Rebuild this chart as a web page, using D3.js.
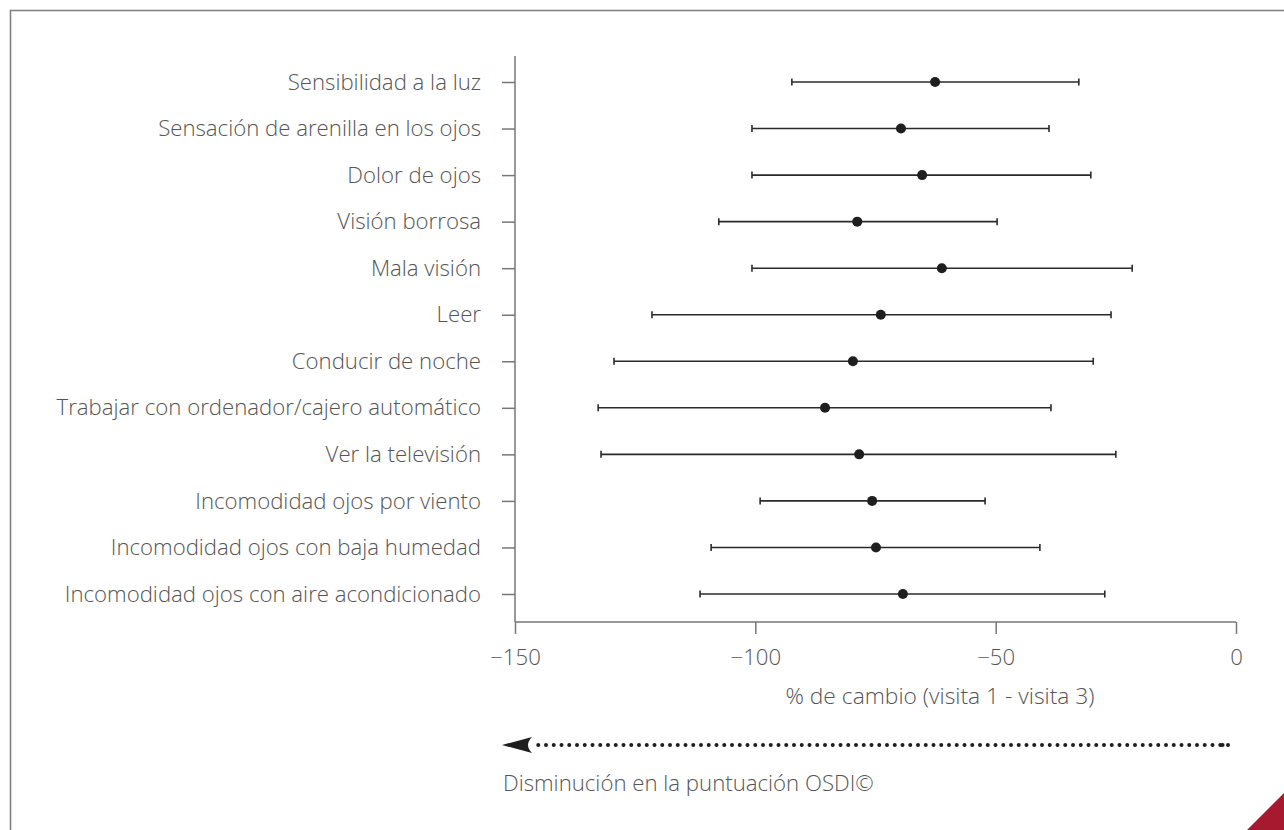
<!DOCTYPE html>
<html><head><meta charset="utf-8">
<script src="https://cdn.jsdelivr.net/npm/d3@7"></script>
<style>
html,body{margin:0;padding:0;background:#fff;}
svg{display:block;}
text{font-family:"Open Sans","Noto Sans",sans-serif;font-weight:300;fill:#555;}
</style></head><body>
<svg id="c" width="1284" height="830"></svg>
<script>
const categories = ["Sensibilidad a la luz","Sensación de arenilla en los ojos","Dolor de ojos","Visión borrosa","Mala visión","Leer","Conducir de noche","Trabajar con ordenador/cajero automático","Ver la televisión","Incomodidad ojos por viento","Incomodidad ojos con baja humedad","Incomodidad ojos con aire acondicionado"];
const meanValues = [-62.6,-69.7,-65.3,-78.8,-61.2,-73.9,-79.7,-85.5,-78.4,-75.7,-74.9,-69.3];
const lowerValues = [-92.4,-100.7,-100.7,-107.6,-100.7,-121.5,-129.4,-132.7,-132.1,-99.0,-109.2,-111.5];
const upperValues = [-32.7,-38.9,-30.2,-49.7,-21.6,-26.0,-29.7,-38.5,-25.0,-52.2,-40.8,-27.3];
const xTicks = [-150,-100,-50,0];
const xTitle = "% de cambio (visita 1 - visita 3)";
const arrowLabel = "Disminución en la puntuación OSDI©";

const FS = 22.2;
const svg = d3.select("#c");
// frame
svg.append("path").attr("d","M10.5,830 V10.5 H1284").attr("fill","none").attr("stroke","#808080").attr("stroke-width",1.6);
// red corner
svg.append("path").attr("d","M1247,830 L1284,793 L1284,830 Z").attr("fill","#a6192e");

const x = d3.scaleLinear().domain([-150,0]).range([515,1236]);
const y = d3.scalePoint().domain(categories).range([82,594]);
const axisY0 = 56, axisY1 = 622;

// y axis
svg.append("line").attr("x1",515).attr("x2",515).attr("y1",axisY0).attr("y2",axisY1).attr("stroke","#777").attr("stroke-width",1.5);
const gy = svg.append("g").attr("transform","translate(515,0)")
  .call(d3.axisLeft(y).tickSize(13).tickPadding(21));
gy.select(".domain").remove();
gy.selectAll(".tick line").attr("stroke","#777").attr("stroke-width",1.5);
gy.selectAll(".tick text").attr("font-size",FS).attr("fill","#555").style("font-family",'"Open Sans","Noto Sans",sans-serif').style("font-weight",300);

// x axis
const gx = svg.append("g").attr("transform",`translate(0,${axisY1})`)
  .call(d3.axisBottom(x).tickValues(xTicks).tickSize(12).tickPadding(15).tickFormat(d=>d<0?"\u2212"+Math.abs(d):d));
gx.select(".domain").attr("d",`M515,0H1236`).attr("stroke","#777").attr("stroke-width",1.5);
gx.selectAll(".tick line").attr("stroke","#777").attr("stroke-width",1.5);
gx.selectAll(".tick text").attr("font-size",FS).attr("fill","#555").style("font-family",'"Open Sans","Noto Sans",sans-serif').style("font-weight",300);

svg.append("text").attr("x",940).attr("y",704).attr("text-anchor","middle").attr("font-size",FS+0.6).text(xTitle);

// error bars
const rows = categories.map((c,i)=>({c,m:meanValues[i],lo:lowerValues[i],hi:upperValues[i]}));
const g = svg.append("g");
g.selectAll("line.bar").data(rows).join("line").attr("class","bar")
  .attr("x1",d=>x(d.lo)).attr("x2",d=>x(d.hi)).attr("y1",d=>y(d.c)).attr("y2",d=>y(d.c))
  .attr("stroke","#2a2a2a").attr("stroke-width",1.6);
g.selectAll("line.capl").data(rows).join("line").attr("class","capl")
  .attr("x1",d=>x(d.lo)).attr("x2",d=>x(d.lo)).attr("y1",d=>y(d.c)-3.5).attr("y2",d=>y(d.c)+3.5)
  .attr("stroke","#2a2a2a").attr("stroke-width",1.6);
g.selectAll("line.caph").data(rows).join("line").attr("class","caph")
  .attr("x1",d=>x(d.hi)).attr("x2",d=>x(d.hi)).attr("y1",d=>y(d.c)-3.5).attr("y2",d=>y(d.c)+3.5)
  .attr("stroke","#2a2a2a").attr("stroke-width",1.6);
g.selectAll("circle").data(rows).join("circle")
  .attr("cx",d=>x(d.m)).attr("cy",d=>y(d.c)).attr("r",5).attr("fill","#1e1e1e");

// arrow
const ay = 745;
svg.append("line").attr("x1",1228).attr("x2",532).attr("y1",ay).attr("y2",ay)
  .attr("stroke","#1e1e1e").attr("stroke-width",4).attr("stroke-linecap","round").attr("stroke-dasharray","0 7.75");
svg.append("circle").attr("cx",1222.5).attr("cy",ay).attr("r",2.1).attr("fill","#1e1e1e");
svg.append("path").attr("d",`M502,${ay} L532,${ay-8} Q524,${ay} 532,${ay+8} Z`).attr("fill","#1e1e1e");

svg.append("text").attr("x",503).attr("y",791).attr("font-size",FS).text(arrowLabel);
</script>
</body></html>
